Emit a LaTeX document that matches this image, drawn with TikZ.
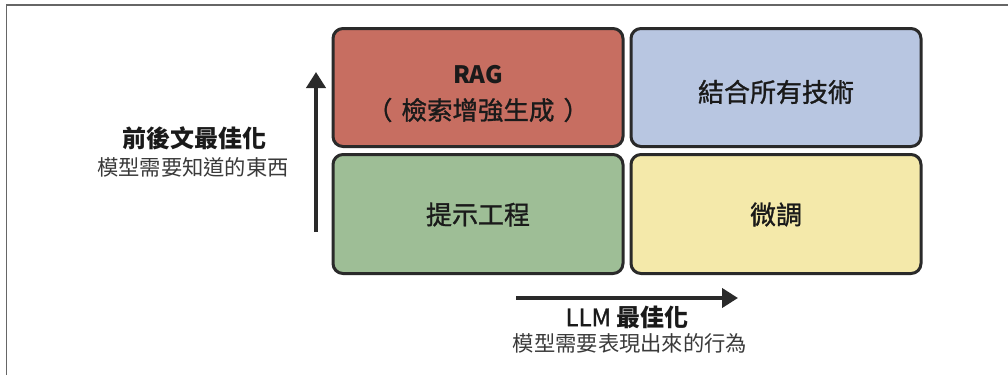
\documentclass[tikz,border=0pt]{standalone}
\usepackage{fontspec}
\setmainfont{Noto Sans CJK TC}
\newfontfamily\medcjk{Noto Sans CJK TC}[FakeBold=1.2]
\usetikzlibrary{arrows.meta}
\definecolor{frameg}{HTML}{666666}
\definecolor{edgec}{HTML}{2A2A2A}
\definecolor{ragred}{HTML}{C76E61}
\definecolor{allblue}{HTML}{B8C6E1}
\definecolor{prgreen}{HTML}{9EBE96}
\definecolor{ftyellow}{HTML}{F4E9AA}
\definecolor{txtc}{HTML}{1A1A1A}
\definecolor{subc}{HTML}{3A3A3A}
\begin{document}
\begin{tikzpicture}[x=1pt,y=-1pt,
  quad/.style={draw=edgec,line width=3pt,rounded corners=10pt,minimum width=290pt,minimum height=118pt,inner sep=0pt},
  boxlbl/.style={inner sep=0pt,text=txtc,font=\fontsize{26}{30}\selectfont\medcjk},
  axtitle/.style={inner sep=0pt,text=txtc,font=\fontsize{24}{28}\selectfont\bfseries},
  axsub/.style={inner sep=0pt,text=subc,font=\fontsize{21.3}{26}\selectfont},
  axarrow/.style={draw=edgec,line width=4pt,-{Triangle[width=19pt,length=16pt]}}]
\useasboundingbox (0,0) rectangle (1008,375);
% frame
\coordinate (ftl) at (6.5,5);
\coordinate (ftr) at (1008,5);
\coordinate (fbl) at (6.5,375);
\draw[frameg,line width=1.8pt] (fbl) -- (ftl) -- (ftr);
% quadrants
\node[quad,fill=ragred] (rag) at (478,87.5) {};
\node[quad,fill=allblue] (all) at (776,87.5) {};
\node[quad,fill=prgreen,minimum height=119pt] (prompt) at (478,214) {};
\node[quad,fill=ftyellow,minimum height=119pt] (ft) at (776,214) {};
% labels
\node[inner sep=0pt,text=txtc,font=\fontsize{24}{28}\selectfont\bfseries] (ragt) at (478,75) {RAG};
\node[boxlbl,font=\fontsize{25.5}{30}\selectfont\medcjk] (ragsub) at (478,110) {（\hspace{9pt}檢索增強生成\hspace{9pt}）};
\node[boxlbl] (allt) at (776,92) {結合所有技術};
\node[boxlbl] (promptt) at (478,214.5) {提示工程};
\node[boxlbl] (ftt) at (776,214.5) {微調};
% vertical axis
\coordinate (vs) at (316,232);
\coordinate (ve) at (316,72);
\draw[axarrow] (vs) -- (ve);
\node[axtitle] (ctxt) at (194,138) {前後文最佳化};
\node[axsub] (ctxs) at (193,167) {模型需要知道的東西};
% horizontal axis
\coordinate (hs) at (516,298);
\coordinate (he) at (738,298);
\draw[axarrow] (hs) -- (he);
\node[axtitle] (llmt) at (627,317) {{\mdseries\medcjk LLM} 最佳化};
\node[axsub] (llms) at (630,343) {模型需要表現出來的行為};
\end{tikzpicture}
\end{document}
